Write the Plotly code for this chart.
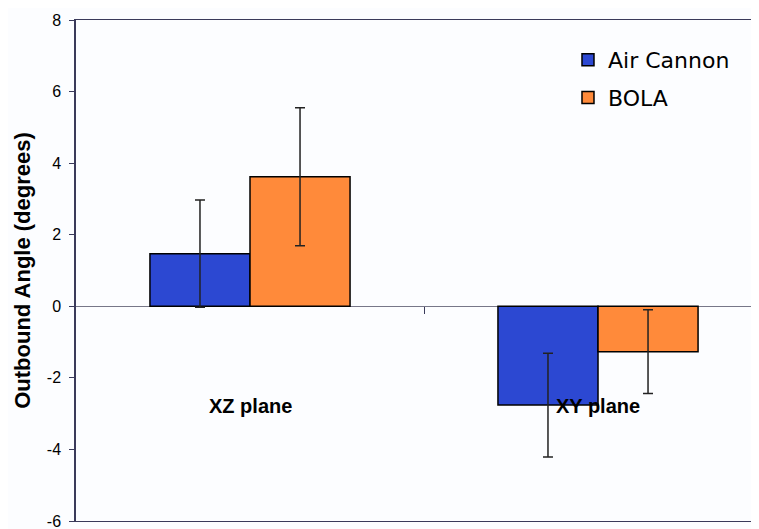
import plotly.graph_objects as go

categories = ["XZ plane", "XY plane"]
air_cannon = [1.47, -2.76]
air_cannon_err = [1.50, 1.45]
bola = [3.62, -1.27]
bola_err = [1.93, 1.17]
y_ticks = [-6, -4, -2, 0, 2, 4, 6, 8]
y_tick_text = ["-6", "-4", "-2", "0", "2", "4", "6", "8"]

BLUE = "#2C48D2"
ORANGE = "#FF8A3A"
AXIS = "#3A3A5A"
Y_MIN, Y_MAX = -6, 8

fig = go.Figure()
fig.add_trace(go.Bar(
    name="Air Cannon", x=categories, y=air_cannon, legendgroup="a",
    marker=dict(color=BLUE, line=dict(color="black", width=1.5)),
    error_y=dict(type="data", array=air_cannon_err, color="#222222", thickness=1.5, width=5),
))
fig.add_trace(go.Bar(
    name="BOLA", x=categories, y=bola, legendgroup="b",
    marker=dict(color=ORANGE, line=dict(color="black", width=1.5)),
    error_y=dict(type="data", array=bola_err, color="#222222", thickness=1.5, width=5),
))
# invisible helper trace so the category-separator tick axis is drawn
fig.add_trace(go.Scatter(x=[None], y=[None], xaxis="x2", yaxis="y",
                         showlegend=False, hoverinfo="skip", mode="markers"))

for c in categories:
    fig.add_annotation(x=c, y=-2.8, text="<b>%s</b>" % c, showarrow=False,
                       font=dict(family="Liberation Sans, Arial", size=20, color="black"))

x_range = [-0.5, 1.4856]
fig.update_layout(
    width=759, height=529,
    margin=dict(l=68, r=0, t=12, b=16),
    paper_bgcolor="#FCFDFF", plot_bgcolor="#FCFDFF",
    barmode="group", bargap=0.425, bargroupgap=0,
    font=dict(family="Liberation Sans, Arial", color="black"),
    showlegend=True,
    legend=dict(x=0.712, y=0.962, xanchor="left", yanchor="top",
                font=dict(family="DejaVu Sans", size=22, color="black"),
                bgcolor="rgba(0,0,0,0)", tracegroupgap=6),
    xaxis=dict(range=x_range, showticklabels=False, ticks="",
               showline=True, mirror=True, linecolor=AXIS, linewidth=1,
               showgrid=False, zeroline=False, fixedrange=True, automargin=False),
    xaxis2=dict(range=x_range, overlaying="x", anchor="free",
                position=(0 - Y_MIN) / (Y_MAX - Y_MIN), side="bottom",
                tickvals=[0.5], ticks="outside", ticklen=7, tickcolor=AXIS,
                showticklabels=False, showline=False, showgrid=False,
                zeroline=False, automargin=False, fixedrange=True),
    yaxis=dict(range=[Y_MIN, Y_MAX], tickvals=y_ticks, ticktext=y_tick_text,
               ticks="outside", ticklen=5, automargin=False,
               tickcolor=AXIS, showline=True, linecolor=AXIS, linewidth=1.5,
               showgrid=False, zeroline=True, zerolinecolor="#777788", zerolinewidth=1,
               tickfont=dict(size=16, color="black"), ticklabelstandoff=5,
               title=dict(text="<b>Outbound Angle (degrees)</b>", font=dict(size=22), standoff=10)),
)

fig.write_html("out.html")
